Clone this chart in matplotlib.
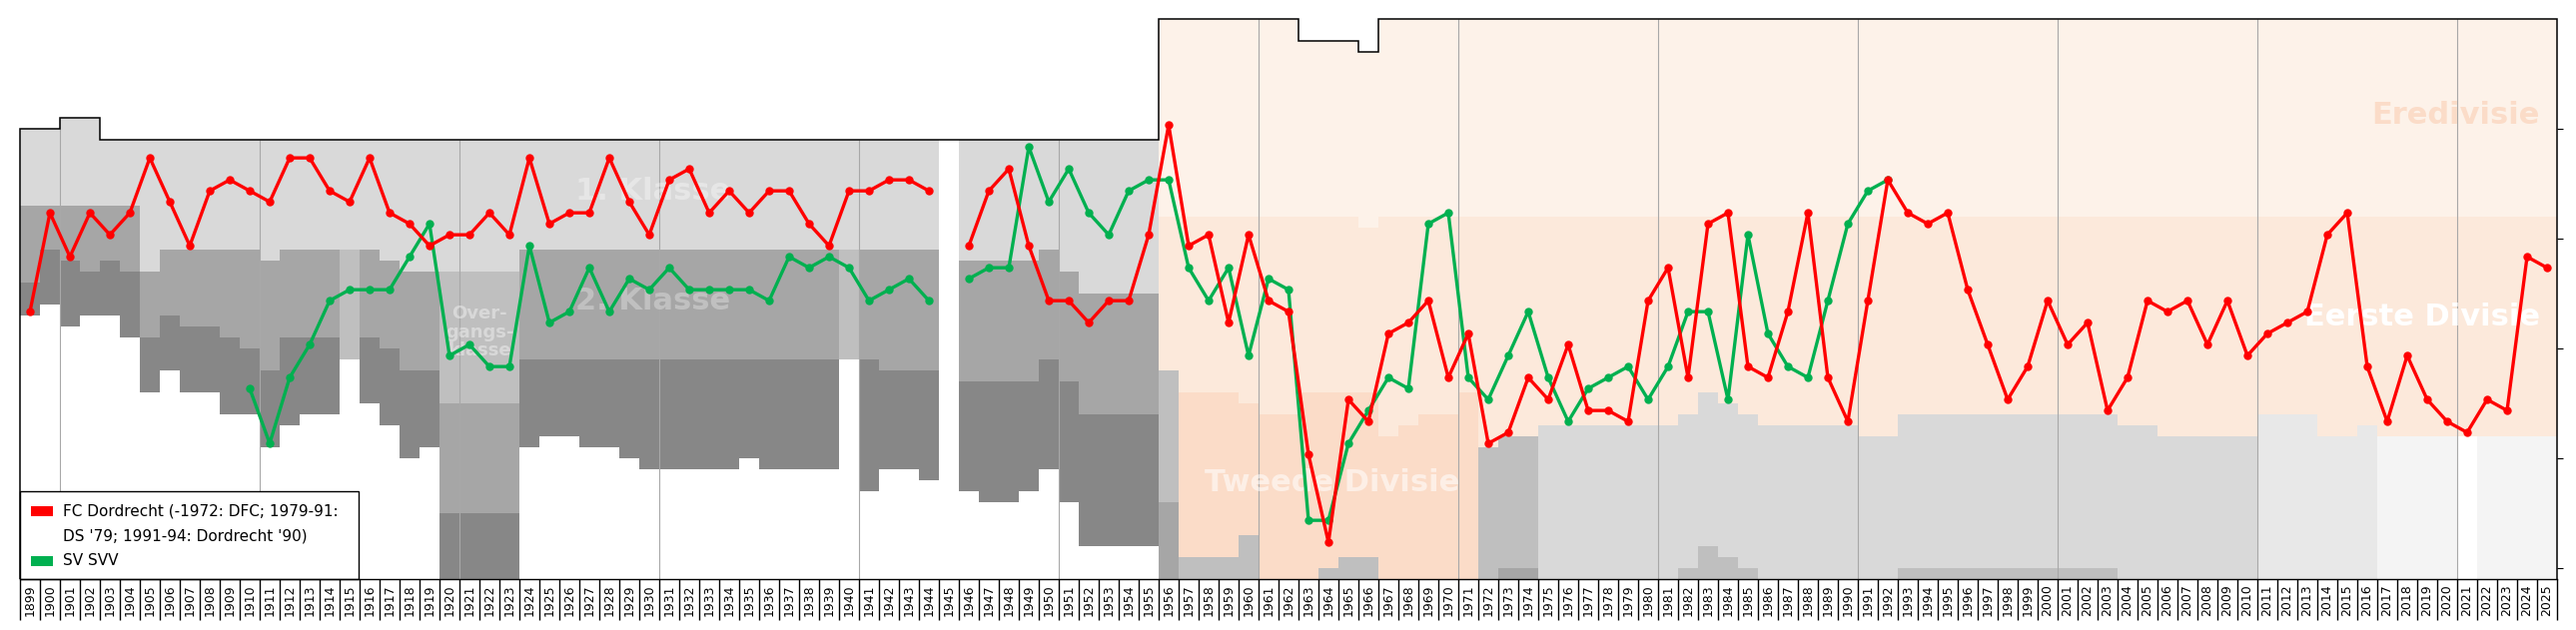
import numpy as np
import matplotlib.pyplot as plt
from matplotlib.patches import Rectangle

plt.rcParams["font.family"] = ["DejaVu Sans"]

# ─── data: league ladder, position 0 = top of the Eredivisie ──────────────────

# 1899-1955, Klasse era: top of 1. Klasse and the lower edge of each class
klasse_years = list(range(1899, 1956))
k_top = [10,
         10, 9, 9, 11, 11, 11, 11, 11, 11, 11,
         11, 11, 11, 11, 11, 11, 11, 11, 11, 11,
         11, 11, 11, 11, 11, 11, 11, 11, 11, 11,
         11, 11, 11, 11, 11, 11, 11, 11, 11, 11,
         11, 11, 11, 11, 11, 11, 11, 11, 11, 11,
         11, 11, 11, 11, 11, 11]
k_b1 = [17,
        17, 17, 17, 17, 17, 23, 21, 21, 21, 21,
        21, 22, 21, 21, 21, 21, 21, 22, 23, 23,
        23, 23, 23, 23, 21, 21, 21, 21, 21, 21,
        21, 21, 21, 21, 21, 21, 21, 21, 21, 21,
        21, 21, 21, 21, 21, None, 22, 22, 22, 22,
        21, 23, 25, 25, 25, 25]
k_b2 = [24,
        21, 22, 23, 22, 23, 29, 27, 28, 28, 29,
        30, 32, 29, 29, 29, 31, 29, 30, 32, 32,
        35, 35, 35, 35, 31, 31, 31, 31, 31, 31,
        31, 31, 31, 31, 31, 31, 31, 31, 31, 31,
        31, 31, 32, 32, 32, None, 33, 33, 33, 33,
        31, 33, 36, 36, 36, 36]
k_b3 = [27,
        26, 28, 27, 27, 29, 34, 32, 34, 34, 36,
        36, 39, 37, 36, 36, None, 35, 37, 40, 39,
        45, 45, 45, 45, 39, 38, 38, 39, 39, 40,
        41, 41, 41, 41, 41, 40, 41, 41, 41, 41,
        None, 43, 41, 41, 42, None, 43, 44, 44, 43,
        41, 44, 48, 48, 48, 48]
light_tier2 = [1915, 1920, 1921, 1922, 1923, 1940]
overgang = [1920, 1921, 1922, 1923]

# 1956-2025, Divisie era
divisie_years = list(range(1956, 2026))
ered_top = [0, 0, 0, 0,
            0, 0, 0, 2, 2, 2, 3, 0, 0, 0,
            0, 0, 0, 0, 0, 0, 0, 0, 0, 0,
            0, 0, 0, 0, 0, 0, 0, 0, 0, 0,
            0, 0, 0, 0, 0, 0, 0, 0, 0, 0,
            0, 0, 0, 0, 0, 0, 0, 0, 0, 0,
            0, 0, 0, 0, 0, 0, 0, 0, 0, 0,
            0, 0, 0, 0, 0, 0]
ered_bot = [18, 18, 18, 18,
            18, 18, 18, 18, 18, 18, 19, 18, 18, 18,
            18, 18, 18, 18, 18, 18, 18, 18, 18, 18,
            18, 18, 18, 18, 18, 18, 18, 18, 18, 18,
            18, 18, 18, 18, 18, 18, 18, 18, 18, 18,
            18, 18, 18, 18, 18, 18, 18, 18, 18, 18,
            18, 18, 18, 18, 18, 18, 18, 18, 18, 18,
            18, 18, 18, 18, 18, 18]
eerste_bot = [32, 34, 34, 34,
              35, 36, 36, 34, 34, 34, 34, 38, 37, 36,
              36, 34, 39, 38, 38, 37, 37, 37, 37, 37,
              37, 37, 36, 34, 35, 36, 37, 37, 37, 37,
              37, 38, 38, 36, 36, 36, 36, 36, 36, 36,
              36, 36, 36, 36, 37, 37, 38, 38, 38, 38,
              38, 36, 36, 36, 38, 38, 37, 38, 38, 38,
              38, 38, 38, 38, 38, 38]
low1_bot = [44, 49, 49, 49,
            47, 51, 51, 51, 50, 49, 49, 51, 51, 51,
            51, 51, 51, 50, 50, 51, 51, 51, 51, 51,
            51, 51, 50, 48, 49, 50, 51, 51, 51, 51,
            51, 51, 51, 50, 50, 50, 50, 50, 50, 50,
            50, 50, 50, 50, 51, 51, 51, 51, 51, 51,
            51, 51, 51, 51, 51, 51, 51, 51, 51, 51,
            51, None, 51, 51, 51, 51]
low1_col = ["B", "T", "T", "T",
            "T", "T", "T", "T", "T", "T", "T", "T", "T", "T",
            "T", "T", "B", "B", "B", "G", "G", "G", "G", "G",
            "G", "G", "G", "G", "G", "G", "G", "G", "G", "G",
            "G", "G", "G", "G", "G", "G", "G", "G", "G", "G",
            "G", "G", "G", "G", "G", "G", "G", "G", "G", "G",
            "G", "E", "E", "E", "E", "E", "E", "F", "F", "F",
            "F", "", "F", "F", "F", "F"]
low2_col = ["A", "B", "B", "B",
            "B", "", "", "", "B", "B", "B", "", "", "",
            "", "", "", "A", "A", "", "", "", "", "",
            "", "", "B", "B", "B", "B", "", "", "", "",
            "", "", "", "B", "B", "B", "B", "B", "B", "B",
            "B", "B", "B", "B", "", "", "", "", "", "",
            "", "", "", "", "", "", "", "", "", "",
            "", "", "", "", "", ""]

# club positions on the ladder (None = no competition)
all_years = list(range(1899, 2026))
dordrecht = [27,
             18, 22, 18, 20, 18, 13, 17, 21, 16, 15,
             16, 17, 13, 13, 16, 17, 13, 18, 19, 21,
             20, 20, 18, 20, 13, 19, 18, 18, 13, 17,
             20, 15, 14, 18, 16, 18, 16, 16, 19, 21,
             16, 16, 15, 15, 16, None, 21, 16, 14, 21,
             26, 26, 28, 26, 26, 20, 10, 21, 20, 28,
             20, 26, 27, 40, 48, 35, 37, 29, 28, 26,
             33, 29, 39, 38, 33, 35, 30, 36, 36, 37,
             26, 23, 33, 19, 18, 32, 33, 27, 18, 33,
             37, 26, 15, 18, 19, 18, 25, 30, 35, 32,
             26, 30, 28, 36, 33, 26, 27, 26, 30, 26,
             31, 29, 28, 27, 20, 18, 32, 37, 31, 35,
             37, 38, 35, 36, 22, 23]
svv_years = list(range(1910, 1993))
svv = [34, 39, 33, 30, 26, 25, 25, 25, 22, 19,
       31, 30, 32, 32, 21, 28, 27, 23, 27, 24,
       25, 23, 25, 25, 25, 25, 26, 22, 23, 22,
       23, 26, 25, 24, 26, None, 24, 23, 23, 12,
       17, 14, 18, 20, 16, 15, 15, 23, 26, 23,
       31, 24, 25, 46, 46, 39, 36, 33, 34, 19,
       18, 33, 35, 31, 27, 33, 37, 34, 33, 32,
       35, 32, 27, 27, 35, 20, 29, 32, 33, 26,
       19, 16, 15]

labels = ["FC Dordrecht (-1972: DFC; 1979-91:", "DS '79; 1991-94: Dordrecht '90)", "SV SVV"]

# ─── styles ───────────────────────────────────────────────────────────────────

GREY1, GREY2, GREY3, GREY_L = "#d9d9d9", "#a6a6a6", "#878787", "#bfbfbf"
ERED, EERSTE = "#fdf2e9", "#fce9db"
PAL = {"T": "#fbdcc8", "B": "#bfbfbf", "A": "#a6a6a6",
       "G": "#d9d9d9", "E": "#e8e8e8", "F": "#f4f4f4"}
RED, GREEN = "#ff0000", "#00b050"
BOTTOM = 51
OFFSET = 0.35

W, H = 2579, 631
fig = plt.figure(figsize=(W / 100, H / 100), dpi=100)
ax = fig.add_axes([20 / W, 51 / H, 2540 / W, 561 / H])
ax.set_xlim(1898.5, 2025.5)
ax.set_ylim(BOTTOM, 0)


def band(x, top, bot, color):
    if top is None or bot is None or not color:
        return
    ax.bar(x, bot - top, bottom=top, width=1.0, color=color,
           linewidth=0, antialiased=False, zorder=0)


# ─── background: the leagues ──────────────────────────────────────────────────

for i, yr in enumerate(klasse_years):
    if k_b1[i] is None:
        continue
    band(yr, k_top[i], k_b1[i], GREY1)
    band(yr, k_b1[i], k_b2[i], GREY_L if yr in light_tier2 else GREY2)
    band(yr, k_b2[i], k_b3[i], GREY2 if yr in overgang else GREY3)
    if yr in overgang:
        band(yr, k_b3[i], BOTTOM, GREY3)

for i, yr in enumerate(divisie_years):
    band(yr, ered_top[i], ered_bot[i], ERED)
    band(yr, ered_bot[i], eerste_bot[i], EERSTE)
    band(yr, eerste_bot[i], low1_bot[i], PAL.get(low1_col[i]))
    band(yr, low1_bot[i], BOTTOM, PAL.get(low2_col[i]))

tops = k_top + ered_top
edges = np.arange(1898.5, 2026.5, 1.0)

# decade lines
for xg in np.arange(1900.5, 2021, 10):
    i = int(xg - 0.5) - 1899
    ax.vlines(xg, min(tops[i], tops[i + 1]), BOTTOM, color="#a8a8a8", lw=0.8, zorder=1)

ax.stairs(tops, edges, baseline=BOTTOM, color="black", lw=1.1, zorder=4, clip_on=False)

# league names
big = dict(fontsize=22, fontweight="bold", zorder=2)
ax.text(1930.2, 15.7, "1. Klasse", color="white", alpha=0.35, ha="center", va="center", **big)
ax.text(1930.2, 25.7, "2. Klasse", color="white", alpha=0.3, ha="center", va="center", **big)
ax.text(1921.5, 28.5, "Over-\ngangs-\nklasse", color="white", alpha=0.4, ha="center",
        va="center", fontsize=13, fontweight="bold", linespacing=1.05, zorder=2)
ax.text(1964.2, 42.2, "Tweede Divisie", color="white", alpha=0.55, ha="center", va="center", **big)
ax.text(2024.65, 27.1, "Eerste Divisie", color="white", ha="right", va="center", **big)
ax.text(2024.65, 8.8, "Eredivisie", color="#fbdcc8", ha="right", va="center", **big)

# ─── clubs ────────────────────────────────────────────────────────────────────

def ladder(vals):
    return np.array([np.nan if v is None else v - OFFSET for v in vals], dtype=float)


ax.plot(svv_years, ladder(svv), color=GREEN, lw=2.4, marker="o", ms=5,
        solid_joinstyle="round", zorder=5)
ax.plot(all_years, ladder(dordrecht), color=RED, lw=2.4, marker="o", ms=5,
        solid_joinstyle="round", zorder=6)

# ─── legend box ───────────────────────────────────────────────────────────────

ax.add_patch(Rectangle((1898.5, 43), 16.95, 8, facecolor="white", edgecolor="black",
                       lw=1, zorder=7, clip_on=False))
ax.add_patch(Rectangle((1899.05, 44.36), 1.1, 0.9, facecolor=RED, lw=0, zorder=8))
ax.add_patch(Rectangle((1899.05, 48.9), 1.1, 0.9, facecolor=GREEN, lw=0, zorder=8))
for yy, txt in zip([44.82, 47.09, 49.36], labels):
    ax.text(1900.65, yy, txt, fontsize=11, ha="left", va="center", zorder=8)

# ─── axes ─────────────────────────────────────────────────────────────────────

for s in ("top", "left", "right"):
    ax.spines[s].set_visible(False)
ax.spines["bottom"].set_linewidth(1)
ax.spines["bottom"].set_zorder(9)

ax.set_xticks(all_years)
ax.set_xticklabels([str(y) for y in all_years], rotation=90, fontsize=9)
ax.tick_params(axis="x", length=0, pad=4)
ax.vlines(edges, 0, -41 / 561, transform=ax.get_xaxis_transform(),
          color="black", lw=1, clip_on=False)

ax.yaxis.tick_right()
ax.set_yticks([10, 20, 30, 40, 50])
ax.set_yticklabels([])
ax.tick_params(axis="y", direction="out", length=4, width=0.8)

fig.savefig("out.png", dpi=100)
